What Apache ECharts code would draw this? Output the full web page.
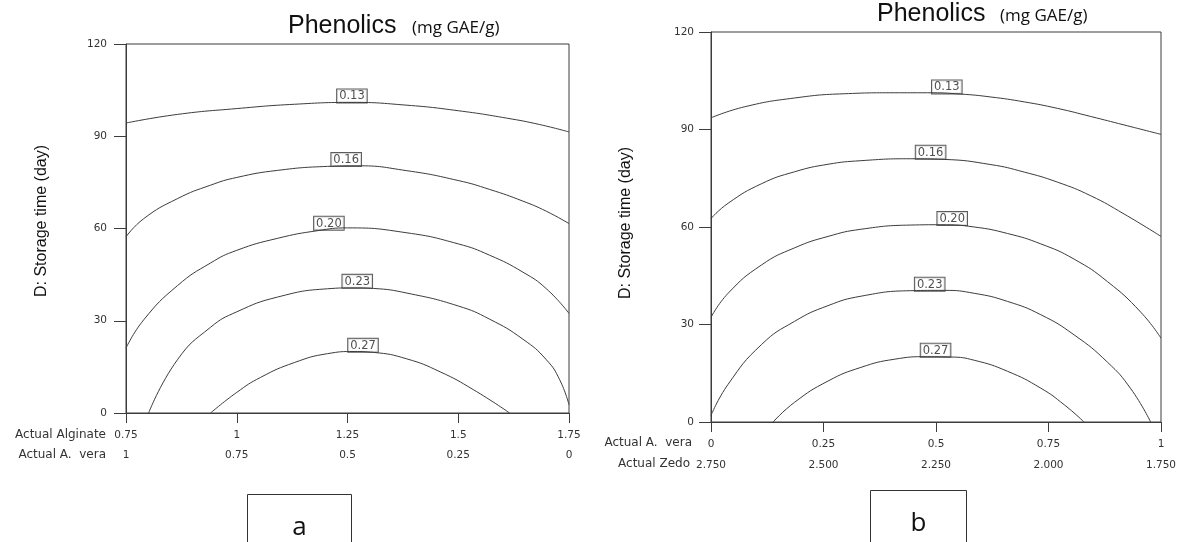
<!DOCTYPE html>
<html>
<head>
<meta charset="utf-8">
<script src="https://cdn.jsdelivr.net/npm/echarts@6/dist/echarts.min.js"></script>
<style>
html,body{margin:0;padding:0;background:#fff;}
#chart{width:1180px;height:542px;}
</style>
</head>
<body>
<div id="chart"></div>
<script>
// ---------- data ----------
var levels = ['0.13', '0.16', '0.20', '0.23', '0.27'];

// Panel a: x = Actual Alginate, y = storage time (day)
var alginateTicks = [0.75, 1, 1.25, 1.5, 1.75];
var aveRowA = [1, 0.75, 0.5, 0.25, 0];
var a013 = [[0.75,94.3],[0.866,97.1],[1.0,99.0],[1.13,100.4],[1.26,101.0],[1.384,100.1],[1.5,98.3],[1.609,95.9],[1.684,93.8],[1.75,91.4]];
var a016 = [[0.75,57.3],[0.79,63.2],[0.866,69.7],[0.941,74.1],[1.0,76.6],[1.092,78.9],[1.205,80.2],[1.271,80.4],[1.384,78.8],[1.5,75.6],[1.571,72.7],[1.646,68.9],[1.699,65.6],[1.75,61.6]];
var a020 = [[0.75,21.1],[0.79,30.3],[0.866,41.4],[0.941,48.8],[1.0,52.9],[1.092,56.8],[1.183,59.3],[1.25,60.2],[1.384,58.6],[1.5,55.0],[1.571,51.3],[1.646,45.8],[1.699,40.4],[1.75,32.4]];
var a023 = [[0.801,0],[0.866,17.3],[0.941,27.9],[1.0,32.9],[1.092,37.7],[1.205,40.4],[1.265,40.7],[1.309,40.5],[1.384,39.0],[1.5,34.8],[1.571,30.5],[1.646,24.0],[1.699,17.3],[1.729,10.8],[1.75,2.7]];
var a027 = [[0.941,0],[1.0,6.7],[1.054,11.6],[1.13,16.4],[1.205,19.3],[1.265,20.0],[1.309,19.7],[1.384,17.6],[1.459,13.4],[1.534,7.6],[1.616,0]];
var labelsA = [[1.260,101.0],[1.247,80.3],[1.208,59.6],[1.272,40.7],[1.285,19.9]];

// Panel b: x = Actual A. vera, second row = Actual Zedo
var aveTicksB = [0, 0.25, 0.5, 0.75, 1];
var zedoRowB = ['2.750', '2.500', '2.250', '2.000', '1.750'];
var b013 = [[0,93.6],[0.075,97.0],[0.186,99.7],[0.296,101.0],[0.407,101.3],[0.481,101.3],[0.555,100.9],[0.622,100.0],[0.696,98.5],[0.770,96.5],[0.844,94.0],[0.918,91.4],[1.0,88.5]];
var b016 = [[0,62.6],[0.038,67.3],[0.112,73.3],[0.186,77.0],[0.260,79.3],[0.333,80.4],[0.444,81.0],[0.518,80.8],[0.622,79.2],[0.696,76.9],[0.770,73.8],[0.844,69.6],[0.918,64.0],[1.0,57.1]];
var b020 = [[0,32.2],[0.038,39.6],[0.112,48.3],[0.186,53.6],[0.260,57.1],[0.333,59.3],[0.444,60.6],[0.511,60.7],[0.585,60.0],[0.659,58.0],[0.733,54.8],[0.807,50.1],[0.881,43.2],[0.955,33.8],[1.0,25.8]];
var b023 = [[0,2.0],[0.038,11.6],[0.112,23.8],[0.186,31.0],[0.260,35.8],[0.333,38.7],[0.444,40.4],[0.518,40.5],[0.585,39.6],[0.659,37.1],[0.733,33.0],[0.807,26.8],[0.881,18.4],[0.933,10.2],[0.977,0]];
var b027 = [[0.138,0],[0.186,6.1],[0.260,12.6],[0.333,16.8],[0.407,19.3],[0.481,20.1],[0.533,20.0],[0.585,19.0],[0.659,15.6],[0.733,10.4],[0.785,5.3],[0.829,0]];
var labelsB = [[0.524,101.1],[0.488,81.0],[0.536,60.6],[0.486,40.4],[0.499,20.1]];

var yTicks = [0, 30, 60, 90, 120];
var titleMain = 'Phenolics';
var titleUnit = '(mg GAE/g)';
var yName = 'D: Storage time (day)';
var panelTags = ['a', 'b'];

// ---------- chart ----------
var chart = echarts.init(document.getElementById('chart'), null, {renderer: 'canvas'});
var LINE = '#3c3c3c';
var TXT = '#333';
var tickFont = {fontFamily: 'DejaVu Sans', fontSize: 10.5, color: TXT};

function xAxisBase(grid, min, max, margin, extra) {
  return Object.assign({
    type: 'value', gridIndex: grid, min: min, max: max, interval: 0.25, position: 'bottom',
    axisLine: {show: true, onZero: false, lineStyle: {color: LINE, width: 1}},
    axisTick: {show: true, inside: false, length: 10, lineStyle: {color: LINE}},
    axisLabel: Object.assign({margin: margin, showMinLabel: true, showMaxLabel: true, hideOverlap: false}, tickFont),
    splitLine: {show: false}
  }, extra || {});
}
function yAxisBase(grid, margin) {
  return {
    type: 'value', gridIndex: grid, min: 0, max: 120, interval: 30,
    axisLine: {show: true, onZero: false, lineStyle: {color: LINE, width: 1}},
    axisTick: {show: true, length: 12, lineStyle: {color: LINE}},
    axisLabel: Object.assign({margin: margin}, tickFont),
    splitLine: {show: false}
  };
}

var curvesA = [a013, a016, a020, a023, a027];
var curvesB = [b013, b016, b020, b023, b027];
var series = [];
function addPanel(curves, labels, xi, yi) {
  curves.forEach(function (c) {
    series.push({type: 'line', xAxisIndex: xi, yAxisIndex: yi, data: c, smooth: 0.5,
      showSymbol: false, symbol: 'none', lineStyle: {color: LINE, width: 1}, silent: true});
  });
  series.push({type: 'scatter', xAxisIndex: xi, yAxisIndex: yi, symbolSize: 0.01, silent: true,
    itemStyle: {color: 'rgba(0,0,0,0)'},
    data: labels.map(function (p, i) { return {value: p, name: levels[i]}; }),
    label: {show: true, position: 'top', distance: 0, formatter: function (p) { return p.name; },
      fontFamily: 'DejaVu Sans', fontSize: 11.5, color: '#222', backgroundColor: '#fff',
      borderColor: '#333', borderWidth: 1, padding: [1, 2, 0, 2], lineHeight: 12}
  });
}
addPanel(curvesA, labelsA, 0, 0);
addPanel(curvesB, labelsB, 2, 1);

function titleGraphics(xMain, yMain, xUnit, yUnit) {
  return [
    {type: 'text', left: xMain, top: yMain, silent: true,
      style: {text: titleMain, fontFamily: 'Liberation Sans', fontSize: 25, fill: '#111'}},
    {type: 'text', left: xUnit, top: yUnit, silent: true,
      style: {text: titleUnit, fontFamily: 'Open Sans', fontSize: 17, fill: '#111'}}
  ];
}
function rowName(text, xRight, yMid) {
  return {type: 'text', x: xRight, y: yMid, silent: true,
    style: {text: text, fontFamily: 'DejaVu Sans', fontSize: 12, fill: TXT, align: 'right', verticalAlign: 'middle'}};
}
function yTitle(x, y) {
  return {type: 'text', x: x, y: y, rotation: Math.PI / 2, silent: true,
    style: {text: yName, fontFamily: 'Liberation Sans', fontSize: 16, fill: '#111', align: 'center', verticalAlign: 'middle'}};
}
function tagBox(x, y, w, h, text, fs) {
  return [
    {type: 'rect', shape: {x: x, y: y, width: w, height: h}, silent: true,
      style: {fill: '#fff', stroke: '#333', lineWidth: 1}},
    {type: 'text', x: x + w / 2, y: y + 33, silent: true,
      style: {text: text, fontFamily: 'Open Sans', fontSize: fs, fill: '#111', align: 'center', verticalAlign: 'middle'}}
  ];
}

var graphics = [].concat(
  titleGraphics(288, 14, 412, 20),
  titleGraphics(877, 2, 1000, 8),
  [rowName('Actual Alginate', 106, 435), rowName('Actual A.  vera', 106, 455),
   rowName('Actual A.  vera', 692, 443), rowName('Actual Zedo', 690, 464),
   yTitle(42, 221), yTitle(626, 223)],
  tagBox(247.5, 494.5, 104, 60, panelTags[0], 26),
  tagBox(870.5, 490.5, 96, 60, panelTags[1], 26)
);

chart.setOption({
  animation: false,
  backgroundColor: '#fff',
  grid: [
    {left: 126, top: 44, width: 443, height: 369, show: true, borderColor: LINE, borderWidth: 1, backgroundColor: 'transparent'},
    {left: 711, top: 32, width: 450, height: 390, show: true, borderColor: LINE, borderWidth: 1, backgroundColor: 'transparent'}
  ],
  xAxis: [
    xAxisBase(0, 0.75, 1.75, 17),
    xAxisBase(0, 0, 1, 37, {inverse: true, axisLine: {show: false}, axisTick: {show: false}}),
    xAxisBase(1, 0, 1, 17),
    xAxisBase(1, 1.75, 2.75, 38, {inverse: true, axisLine: {show: false}, axisTick: {show: false},
      axisLabel: Object.assign({margin: 38, showMinLabel: true, showMaxLabel: true,
        formatter: function (v) { return zedoRowB[aveTicksB.indexOf(Math.round((2.75 - v) * 100) / 100)] || v.toFixed(3); }}, tickFont)})
  ],
  yAxis: [yAxisBase(0, 19), yAxisBase(1, 17)],
  series: series,
  graphic: graphics
});
</script>
</body>
</html>
